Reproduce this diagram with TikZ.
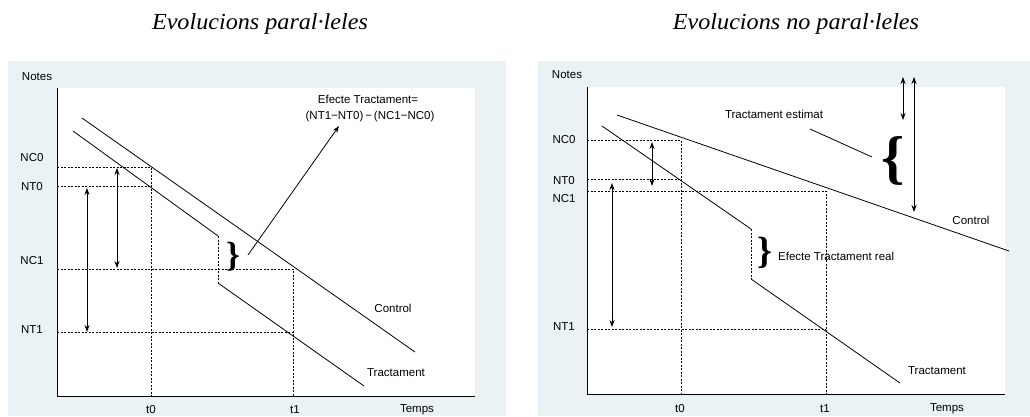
\documentclass[tikz,border=0pt]{standalone}
\usepackage{fontspec}
\setmainfont{Liberation Serif}
\setsansfont{Liberation Sans}
\newfontfamily\titlefont[FakeStretch=1.05]{Liberation Serif}
\usetikzlibrary{arrows.meta}
\definecolor{bgblue}{HTML}{EAF2F5}
\begin{document}
\begin{tikzpicture}[x=1pt,y=-1pt,
  panelbg/.style={fill=bgblue,draw=none},
  plotarea/.style={fill=white,draw=none},
  axisline/.style={line width=1pt},
  guide/.style={dash pattern=on 2pt off 1.5pt,line width=0.8pt},
  curve/.style={line width=0.8pt},
  dblarrow/.style={{Stealth[length=7pt,width=5pt]}-{Stealth[length=7pt,width=5pt]},line width=0.8pt},
  onearrow/.style={-{Stealth[length=7pt,width=5pt]},line width=0.8pt},
  lbl/.style={font=\sffamily\fontsize{11.5}{13}\selectfont,inner sep=0pt},
  ttl/.style={font=\titlefont\itshape\fontsize{23}{26}\selectfont,inner sep=0pt,anchor=base},
  bracetxt/.style={inner sep=0pt,anchor=center}]
\useasboundingbox (0,0) rectangle (1030,416);

% ---------- titles
\node[ttl] (titleL) at (260,29) {Evolucions paral·leles};
\node[ttl] (titleR) at (796,29) {Evolucions no paral·leles};

% ---------- LEFT PANEL
\fill[panelbg] (8,61) rectangle (506,416);
\fill[plotarea] (57,88) rectangle (475,396);

\coordinate (LO) at (57,396);
\coordinate (LTop) at (57,88);
\coordinate (LRight) at (475,396);
\coordinate (LnC0) at (57,167);
\coordinate (LnT0) at (57,186);
\coordinate (LnC1) at (57,269);
\coordinate (LnT1) at (57,332);
\coordinate (LpC0) at (151,167);
\coordinate (LpT0) at (151,186);
\coordinate (Lt0) at (151,396);
\coordinate (LpC1) at (293,269);
\coordinate (LpT1) at (293,332);
\coordinate (Lt1) at (293,396);
\coordinate (LkA) at (218,236);
\coordinate (LkB) at (218,283);
\coordinate (LcS) at (82,118);
\coordinate (LcE) at (415,352);
\coordinate (LtS) at (73,131);
\coordinate (LtE) at (364,386);

\draw[guide] (LnC0) -- (LpC0) -- (Lt0);
\draw[guide] (LnT0) -- (LpT0);
\draw[guide] (LnC1) -- (LpC1) -- (Lt1);
\draw[guide] (LnT1) -- (LpT1);
\draw[guide] (LkA) -- (LkB);

\draw[curve] (LcS) -- (LcE);
\draw[curve] (LtS) -- (LkA);
\draw[curve] (LkB) -- (LtE);

\draw[axisline] (LTop) -- (LO) -- (LRight);

\coordinate (LaC0) at (117,168);
\coordinate (LaC1) at (117,268);
\coordinate (LaT0) at (87,188);
\coordinate (LaT1) at (87,332);
\draw[dblarrow] (LaC0) -- (LaC1);
\draw[dblarrow] (LaT0) -- (LaT1);

\node[bracetxt,font=\bfseries\fontsize{35}{35}\selectfont] (Lbrace) at (233,257) {\}};
\coordinate (LannS) at (248,255);

\node[lbl] (Leff1) at (368,99) {Efecte Tractament=};
\node[lbl] (Leff2) at (370,117) {(NT1−NT0)\,−\,(NC1−NC0)};
\coordinate (LannE) at (339,126);
\draw[onearrow] (LannS) -- (LannE);

\node[lbl] (LNotes) at (37,77) {Notes};
\node[lbl] (LNC0) at (32,158) {NC0};
\node[lbl] (LNT0) at (32,187) {NT0};
\node[lbl] (LNC1) at (32,261) {NC1};
\node[lbl] (LNT1) at (32,330) {NT1};
\node[lbl] (Lt0lbl) at (151,410) {t0};
\node[lbl] (Lt1lbl) at (295,410) {t1};
\node[lbl] (LTemps) at (417,410) {Temps};
\node[lbl] (LControl) at (393,308) {Control};
\node[lbl] (LTract) at (396,373) {Tractament};

% ---------- RIGHT PANEL
\fill[panelbg] (538,61) rectangle (1030,416);
\fill[plotarea] (587,87) rectangle (1005,394);

\coordinate (RO) at (587,394);
\coordinate (RTop) at (587,87);
\coordinate (RRight) at (1005,394);
\coordinate (RnC0) at (587,140);
\coordinate (RnT0) at (587,179);
\coordinate (RnC1) at (587,191);
\coordinate (RnT1) at (587,329);
\coordinate (RpC0) at (681,140);
\coordinate (RpT0) at (681,179);
\coordinate (Rt0) at (681,394);
\coordinate (RpC1) at (826,191);
\coordinate (RpT1) at (826,329);
\coordinate (Rt1) at (826,394);
\coordinate (RkA) at (751,229);
\coordinate (RkB) at (751,279);
\coordinate (RcS) at (617,115);
\coordinate (RcE) at (1009,251);
\coordinate (RtS) at (602,126);
\coordinate (RtE) at (900,383);

\draw[guide] (RnC0) -- (RpC0) -- (Rt0);
\draw[guide] (RnT0) -- (RpT0);
\draw[guide] (RnC1) -- (RpC1) -- (Rt1);
\draw[guide] (RnT1) -- (RpT1);
\draw[guide] (RkA) -- (RkB);

\draw[curve] (RcS) -- (RcE);
\draw[curve] (RtS) -- (RkA);
\draw[curve] (RkB) -- (RtE);

\draw[axisline] (RTop) -- (RO) -- (RRight);

\coordinate (RaC0) at (652,142);
\coordinate (RaT0b) at (652,186);
\coordinate (RaT0) at (612,183);
\coordinate (RaT1) at (612,327);
\coordinate (RaU1) at (903,77);
\coordinate (RaU2) at (903,120);
\coordinate (RaV1) at (914,77);
\coordinate (RaV2) at (914,212);
\draw[dblarrow] (RaC0) -- (RaT0b);
\draw[dblarrow] (RaT0) -- (RaT1);
\draw[dblarrow] (RaU1) -- (RaU2);
\draw[dblarrow] (RaV1) -- (RaV2);

\coordinate (RsS) at (810,129);
\coordinate (RsE) at (872,157);
\draw[curve] (RsS) -- (RsE);

\node[bracetxt,font=\bfseries\fontsize{38}{38}\selectfont] (Rbrace) at (765,253) {\}};
\node[bracetxt,font=\bfseries\fontsize{59}{59}\selectfont] (Rbrace2) at (893,161) {\{};

\node[lbl] (RNotes) at (567,75) {Notes};
\node[lbl] (RNC0) at (564,140) {NC0};
\node[lbl] (RNT0) at (564,181) {NT0};
\node[lbl] (RNC1) at (564,199) {NC1};
\node[lbl] (RNT1) at (564,327) {NT1};
\node[lbl] (Rt0lbl) at (680,409) {t0};
\node[lbl] (Rt1lbl) at (825,409) {t1};
\node[lbl] (RTemps) at (947,409) {Temps};
\node[lbl] (REst) at (774,114) {Tractament estimat};
\node[lbl,anchor=west] (RReal) at (778,256) {Efecte Tractament real};
\node[lbl] (RControl) at (971,220) {Control};
\node[lbl] (RTract) at (937,371) {Tractament};
\end{tikzpicture}
\end{document}
